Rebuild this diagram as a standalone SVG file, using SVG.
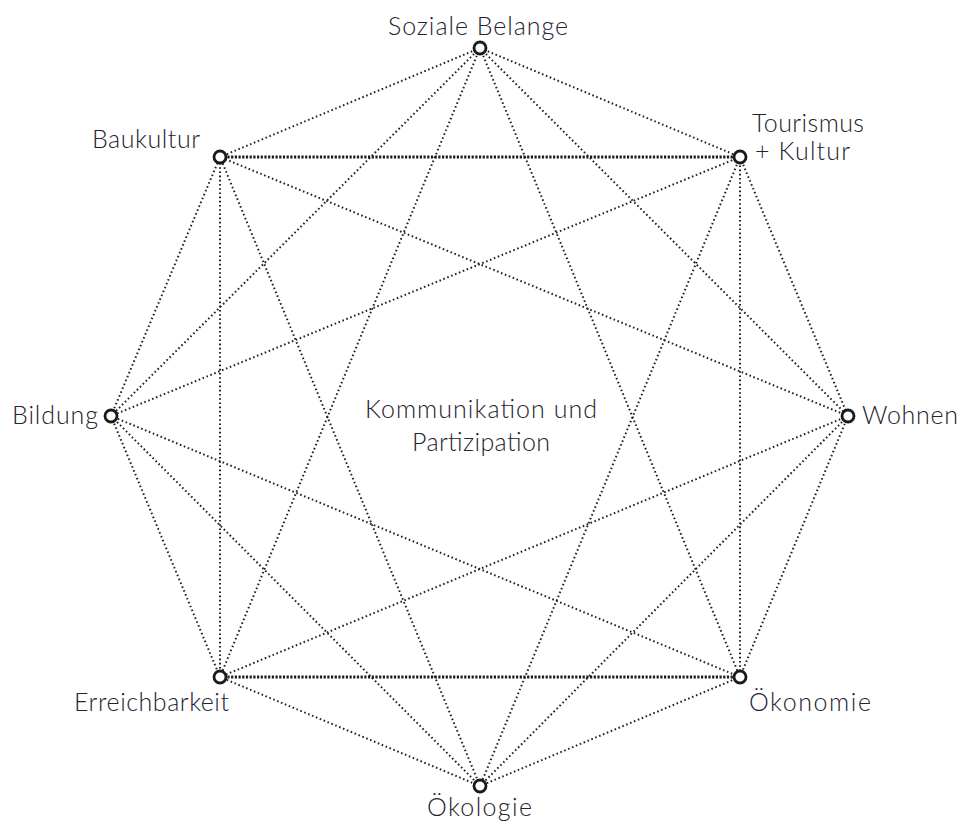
<svg xmlns="http://www.w3.org/2000/svg" width="960" height="824" viewBox="0 0 960 824">
<style>
.e{stroke:#222;stroke-width:2;stroke-dasharray:1.6 2.6;fill:none}
.h{stroke:#1a1a1a;stroke-width:2.8;stroke-dasharray:2.2 1.5;fill:none}
.n{fill:#fff;stroke:#1a1a1a;stroke-width:2.8}
text{font-family:Lato,"Noto Sans",sans-serif;font-size:25px;font-weight:300;fill:#26222e}
</style>
<rect width="960" height="824" fill="#fff"/>
<g id="connectors">
<line class="e" x1="480" y1="48" x2="740" y2="157"/>
<line class="e" x1="480" y1="48" x2="848" y2="416"/>
<line class="e" x1="480" y1="48" x2="740" y2="677"/>
<line class="e" x1="480" y1="48" x2="220" y2="677"/>
<line class="e" x1="480" y1="48" x2="111" y2="416"/>
<line class="e" x1="480" y1="48" x2="220" y2="157"/>
<line class="e" x1="740" y1="157" x2="848" y2="416"/>
<line class="e" x1="740" y1="157" x2="740" y2="677"/>
<line class="e" x1="740" y1="157" x2="480" y2="786"/>
<line class="e" x1="740" y1="157" x2="111" y2="416"/>
<line class="e" x1="848" y1="416" x2="740" y2="677"/>
<line class="e" x1="848" y1="416" x2="480" y2="786"/>
<line class="e" x1="848" y1="416" x2="220" y2="677"/>
<line class="e" x1="848" y1="416" x2="220" y2="157"/>
<line class="e" x1="740" y1="677" x2="480" y2="786"/>
<line class="e" x1="740" y1="677" x2="111" y2="416"/>
<line class="e" x1="480" y1="786" x2="220" y2="677"/>
<line class="e" x1="480" y1="786" x2="111" y2="416"/>
<line class="e" x1="480" y1="786" x2="220" y2="157"/>
<line class="e" x1="220" y1="677" x2="111" y2="416"/>
<line class="e" x1="220" y1="677" x2="220" y2="157"/>
<line class="e" x1="111" y1="416" x2="220" y2="157"/>
<line class="h" x1="220" y1="157" x2="740" y2="157"/>
<line class="h" x1="220" y1="677" x2="740" y2="677"/>
</g>
<g id="soziale"><circle class="n" cx="480" cy="48" r="6"/><text x="388" y="35" textLength="180">Soziale Belange</text></g>
<g id="tourismus"><circle class="n" cx="740" cy="157" r="6"/><text x="752" y="132" textLength="112">Tourismus</text><text x="755" y="160" textLength="95">+ Kultur</text></g>
<g id="wohnen"><circle class="n" cx="848" cy="416" r="6"/><text x="862" y="424" textLength="96">Wohnen</text></g>
<g id="oekonomie"><circle class="n" cx="740" cy="677" r="6"/><text x="749" y="711" textLength="122">Ökonomie</text></g>
<g id="oekologie"><circle class="n" cx="480" cy="786" r="6"/><text x="427" y="816" textLength="105">Ökologie</text></g>
<g id="erreichbarkeit"><circle class="n" cx="220" cy="677" r="6"/><text x="74" y="711" textLength="155">Erreichbarkeit</text></g>
<g id="bildung"><circle class="n" cx="111" cy="416" r="6"/><text x="12" y="424" textLength="86">Bildung</text></g>
<g id="baukultur"><circle class="n" cx="220" cy="157" r="6"/><text x="92" y="148" textLength="108">Baukultur</text></g>
<g id="center"><text x="365" y="418" textLength="232">Kommunikation und</text><text x="412" y="451" textLength="138">Partizipation</text></g>
</svg>
